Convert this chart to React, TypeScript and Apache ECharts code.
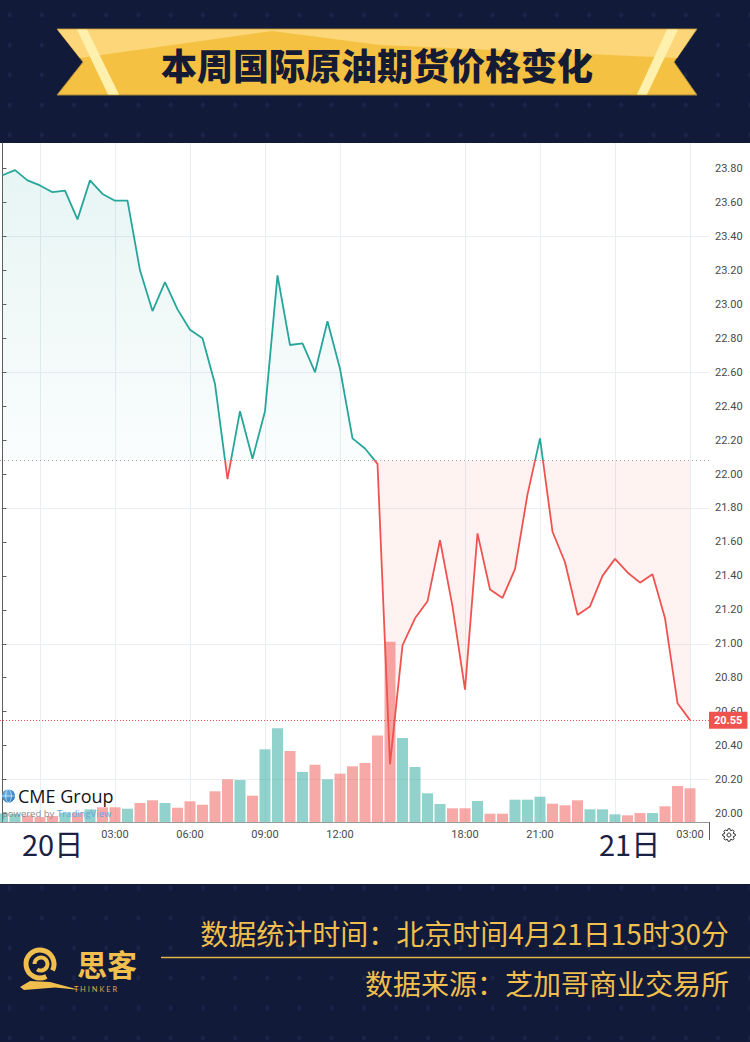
import React, { useEffect, useRef } from 'react';
import * as echarts from 'echarts';

// ---- data (30-minute bars, exchange time) ----
const times = [
  '22:30', '23:00', '23:30', '00:00', '00:30', '01:00', '01:30', '02:00', '02:30', '03:00',
  '03:30', '04:00', '04:30', '05:00', '05:30', '06:00', '06:30', '07:00', '07:30', '08:00',
  '08:30', '09:00', '09:30', '10:00', '10:30', '11:00', '11:30', '12:00', '12:30', '13:00',
  '13:30', '14:00', '14:30', '15:00', '15:30', '17:00', '17:30', '18:00', '18:30', '19:00',
  '19:30', '20:00', '20:30', '21:00', '21:30', '22:00', '22:30', '23:00', '23:30', '00:00',
  '00:30', '01:00', '01:30', '02:00', '02:30', '03:00',
];
const prices = [
  23.76, 23.79, 23.73, 23.70, 23.66, 23.67, 23.50, 23.73, 23.65, 23.61,
  23.61, 23.20, 22.96, 23.13, 22.97, 22.85, 22.80, 22.53, 21.97, 22.37,
  22.09, 22.37, 23.17, 22.76, 22.77, 22.60, 22.90, 22.62, 22.21, 22.15,
  22.06, 20.29, 20.99, 21.15, 21.25, 21.61, 21.22, 20.73, 21.65, 21.32,
  21.27, 21.44, 21.88, 22.21, 21.66, 21.48, 21.17, 21.22, 21.40, 21.50,
  21.42, 21.36, 21.41, 21.15, 20.65, 20.55,
];
const volumes = [
  0.87, 0.80, 0.65, 0.50, 0.60, 0.93, 0.93, 1.27, 1.47, 1.47,
  1.33, 1.90, 2.17, 1.90, 1.43, 2.07, 1.73, 3.07, 4.27, 4.20,
  2.63, 7.27, 9.37, 7.10, 5.00, 5.73, 4.27, 4.83, 5.57, 5.90,
  8.65, 18.03, 8.40, 5.50, 2.87, 1.80, 1.37, 1.37, 2.10, 0.83,
  0.83, 2.23, 2.23, 2.53, 1.83, 1.67, 2.17, 1.27, 1.27, 0.77,
  0.67, 0.90, 0.90, 1.57, 3.60, 3.37,
];
const prevClose = 22.08;
const timeTickIndex = [3, 9, 15, 21, 27, 37, 43, 49, 55];
const priceTicks = [20.0, 20.2, 20.4, 20.6, 20.8, 21.0, 21.2, 21.4, 21.6, 21.8, 22.0, 22.2, 22.4, 22.6, 22.8, 23.0, 23.2, 23.4, 23.6, 23.8];
const dayLabels = ['20日', '21日'];
const titleText = '本周国际原油期货价格变化';
const footerLine1 = '数据统计时间：北京时间4月21日15时30分';
const footerLine2 = '数据来源：芝加哥商业交易所';

const GREEN = '#26a69a';
const RED = '#ef5350';
const GRID = '#e8eef2';
const GOLD = '#f0bf4d';
const NAVY = '#121a3a';
const CLEAR = 'rgba(0,0,0,0)';

function dots(y0: number, rows: number) {
  const out: any[] = [];
  for (let r = 0; r < rows; r++) {
    for (let c = 0; c < 24; c++) {
      out.push({
        type: 'ellipse',
        z: 1,
        silent: true,
        shape: { cx: 9.6 + c * 32.2, cy: y0 + r * 30, rx: 2, ry: 2.8 },
        style: { fill: '#1b2349' },
      });
    }
  }
  return out;
}

function gearPoints(cx: number, cy: number) {
  const pts: number[][] = [];
  for (let k = 0; k < 8; k++) {
    const a = (k * Math.PI) / 4;
    const d = Math.PI / 20;
    pts.push([cx + 6.3 * Math.cos(a - d), cy + 6.3 * Math.sin(a - d)]);
    pts.push([cx + 6.3 * Math.cos(a + d), cy + 6.3 * Math.sin(a + d)]);
    pts.push([cx + 4.6 * Math.cos(a + 2.2 * d), cy + 4.6 * Math.sin(a + 2.2 * d)]);
    pts.push([cx + 4.6 * Math.cos(a + 2.8 * d), cy + 4.6 * Math.sin(a + 2.8 * d)]);
  }
  return pts;
}

function buildOption(): any {
  const lastPrice = prices[prices.length - 1];
  const graphics: any[] = [
    // header
    { type: 'rect', z: 0, silent: true, shape: { x: 0, y: 0, width: 750, height: 143 }, style: { fill: NAVY } },
    ...dots(15, 5),
    { type: 'polygon', z: 5, shape: { points: [[57, 29], [697, 29], [674, 62], [697, 95], [57, 95], [83, 62]] }, style: { fill: '#f4c142', stroke: '#a88739', lineWidth: 1 } },
    { type: 'polygon', z: 6, shape: { points: [[57.5, 29.5], [696, 29.5], [677, 58], [380, 45], [272, 31], [80, 58]] }, style: { fill: '#fcd679' } },
    { type: 'polygon', z: 7, shape: { points: [[77, 29.5], [87, 29.5], [119, 94.5], [108, 94.5]] }, style: { fill: '#fff1ad' } },
    { type: 'polygon', z: 7, shape: { points: [[667, 29.5], [678, 29.5], [647, 94.5], [637, 94.5]] }, style: { fill: '#fff1ad' } },
    {
      type: 'text', z: 8, x: 377, y: 64,
      style: { text: titleText, fontSize: 36, fontWeight: 900, fontFamily: '"Noto Sans CJK SC"', fill: '#151a35', align: 'center', verticalAlign: 'middle' },
    },
    // footer
    { type: 'rect', z: 0, silent: true, shape: { x: 0, y: 884, width: 750, height: 158 }, style: { fill: NAVY } },
    ...dots(888, 6),
    {
      type: 'text', z: 8, x: 729, y: 933,
      style: { text: footerLine1, fontSize: 28, fontFamily: '"Noto Sans CJK SC"', fill: GOLD, align: 'right', verticalAlign: 'middle' },
    },
    { type: 'line', z: 8, shape: { x1: 161, y1: 957.5, x2: 750, y2: 957.5 }, style: { stroke: '#e0b44a', lineWidth: 1.5 } },
    {
      type: 'text', z: 8, x: 729, y: 983,
      style: { text: footerLine2, fontSize: 28, fontFamily: '"Noto Sans CJK SC"', fill: GOLD, align: 'right', verticalAlign: 'middle' },
    },
    // logo
    { type: 'arc', z: 8, shape: { cx: 40, cy: 964, r: 14, startAngle: 0.35 * Math.PI, endAngle: 2.15 * Math.PI }, style: { stroke: GOLD, lineWidth: 5, fill: null } },
    { type: 'arc', z: 8, shape: { cx: 41, cy: 964, r: 6.5, startAngle: 1.0 * Math.PI, endAngle: 2.7 * Math.PI }, style: { stroke: GOLD, lineWidth: 4, fill: null } },
    { type: 'polygon', z: 8, shape: { points: [[20, 987], [30, 981], [50, 982], [80, 990], [55, 987.5], [24, 990]] }, style: { fill: GOLD } },
    {
      type: 'text', z: 8, x: 77, y: 963,
      style: { text: '思客', fontSize: 30, fontWeight: 'bold', fontFamily: '"Noto Sans CJK SC"', fill: GOLD, align: 'left', verticalAlign: 'middle' },
    },
    {
      type: 'text', z: 8, x: 74, y: 989,
      style: { text: 'T H I N K E R', fontSize: 7.5, fontFamily: 'Lato', fill: '#d6ab48', align: 'left', verticalAlign: 'middle' },
    },
    // chart overlays
    { type: 'line', z: 8, shape: { x1: 709.5, y1: 822, x2: 709.5, y2: 840 }, style: { stroke: '#5d5d5d', lineWidth: 1 } },
    { type: 'polygon', z: 8, shape: { points: gearPoints(729, 835) }, style: { fill: '#ffffff', stroke: '#333333', lineWidth: 1 } },
    { type: 'circle', z: 8, shape: { cx: 729, cy: 835, r: 2 }, style: { fill: '#ffffff', stroke: '#333333', lineWidth: 1 } },
    {
      type: 'text', z: 8, x: 22, y: 843,
      style: { text: dayLabels[0], fontSize: 29, fontFamily: '"Noto Sans CJK SC"', fill: '#1b2142', align: 'left', verticalAlign: 'middle' },
    },
    {
      type: 'text', z: 8, x: 599, y: 843,
      style: { text: dayLabels[1], fontSize: 29, fontFamily: '"Noto Sans CJK SC"', fill: '#1b2142', align: 'left', verticalAlign: 'middle' },
    },
    // CME Group / TradingView badge
    {
      type: 'circle', z: 20, shape: { cx: 8.5, cy: 796, r: 6.5 },
      style: { fill: new echarts.graphic.RadialGradient(0.35, 0.35, 0.8, [{ offset: 0, color: '#6fb6ea' }, { offset: 1, color: '#1f6fb8' }]) },
    },
    { type: 'ellipse', z: 21, shape: { cx: 8.5, cy: 796, rx: 2.8, ry: 6.3 }, style: { fill: null, stroke: 'rgba(255,255,255,0.8)', lineWidth: 0.8 } },
    { type: 'line', z: 21, shape: { x1: 2.2, y1: 796, x2: 14.8, y2: 796 }, style: { stroke: 'rgba(255,255,255,0.8)', lineWidth: 0.8 } },
    {
      type: 'text', z: 20, x: 18, y: 796,
      style: { text: 'CME Group', fontSize: 18, fontWeight: 500, fontFamily: '"Open Sans"', fill: '#141414', align: 'left', verticalAlign: 'middle' },
    },
    {
      type: 'text', z: 20, x: 2, y: 813,
      style: { text: 'powered by', fontSize: 9.5, fontFamily: '"Open Sans"', fill: '#8a8a8a', align: 'left', verticalAlign: 'middle' },
    },
    {
      type: 'text', z: 20, x: 57, y: 813,
      style: { text: 'TradingView', fontSize: 9.5, fontFamily: '"Open Sans"', fill: '#5fa8e0', align: 'left', verticalAlign: 'middle' },
    },
  ];

  return {
    animation: false,
    backgroundColor: '#ffffff',
    grid: { left: 0, right: 41, top: 143, bottom: 220 },
    xAxis: {
      type: 'value',
      min: -0.2,
      max: 56.52,
      axisLine: { show: true, onZero: false, lineStyle: { color: '#9a9a9a', width: 1 } },
      axisTick: { show: false },
      axisLabel: { show: false },
      splitLine: { show: false },
    },
    yAxis: [
      {
        type: 'value',
        position: 'right',
        min: 19.95,
        max: 23.95,
        interval: 0.05,
        axisLine: { show: true, lineStyle: { color: '#5d5d5d', width: 1 } },
        axisTick: { show: true, length: 4, customValues: priceTicks, lineStyle: { color: '#5d5d5d' } },
        axisLabel: {
          color: '#4a4a4a',
          fontSize: 11,
          fontFamily: 'Roboto',
          margin: 6,
          formatter: (v: number) => (priceTicks.some((t) => Math.abs(t - v) < 1e-6) ? v.toFixed(2) : ''),
        },
        splitLine: { show: true, lineStyle: { color: [CLEAR, GRID, CLEAR, CLEAR], width: 1 } },
      },
      { type: 'value', show: false, min: 0, max: 67.9 },
    ],
    graphic: { elements: graphics },
    series: [
      {
        type: 'bar',
        name: 'volume',
        xAxisIndex: 0,
        yAxisIndex: 1,
        barWidth: 11,
        z: 2,
        data: volumes.map((v, i) => [i, v]),
        itemStyle: {
          color: (p: any) => {
            const i = p.dataIndex;
            const up = i === 0 || prices[i] >= prices[i - 1];
            return up ? 'rgba(38,166,154,0.5)' : 'rgba(239,83,80,0.5)';
          },
        },
        markLine: {
          silent: true,
          z: 1,
          symbol: 'none',
          lineStyle: { color: GRID, type: 'solid', width: 1 },
          label: { show: true, position: 'start', distance: 7, color: '#4a4a4a', fontSize: 11, fontFamily: 'Roboto' },
          data: timeTickIndex.map((i) => ({
            xAxis: i,
            label: { show: times[i] !== '00:00', formatter: times[i] },
          })),
        },
      },
      {
        id: 'price',
        type: 'line',
        xAxisIndex: 0,
        yAxisIndex: 0,
        z: 3,
        symbol: 'none',
        showSymbol: false,
        data: prices.map((v, i) => [i, v]),
        lineStyle: { width: 1.8, color: GREEN },
        areaStyle: { origin: prevClose, color: 'rgba(38,166,154,0.1)' },
        markLine: {
          silent: true,
          symbol: 'none',
          z: 5,
          data: [
            { yAxis: prevClose, lineStyle: { color: '#a9a9a9', type: [1, 3], width: 1 }, label: { show: false } },
            {
              yAxis: lastPrice,
              lineStyle: { color: RED, type: [1, 2], width: 1 },
              label: {
                show: true,
                position: 'end',
                distance: 0,
                formatter: lastPrice.toFixed(2),
                backgroundColor: RED,
                color: '#ffffff',
                fontWeight: 'bold',
                fontSize: 11,
                fontFamily: 'Roboto',
                padding: [3, 5, 3, 5],
              },
            },
          ],
        },
      },
    ],
  };
}

export default function App() {
  const ref = useRef<HTMLDivElement>(null);
  useEffect(() => {
    document.body.style.margin = '0';
    const chart = echarts.init(ref.current as HTMLDivElement, null, { renderer: 'svg' });
    chart.setOption(buildOption());
    const yTop = chart.convertToPixel({ yAxisIndex: 0 } as any, Math.max(...prices)) as number;
    const yBot = chart.convertToPixel({ yAxisIndex: 0 } as any, Math.min(...prices)) as number;
    const yBase = chart.convertToPixel({ yAxisIndex: 0 } as any, prevClose) as number;
    const b = Math.min(1, Math.max(0, (yBase - yTop) / (yBot - yTop)));
    const lineGrad = new echarts.graphic.LinearGradient(0, yTop, 0, yBot, [
      { offset: 0, color: GREEN },
      { offset: b, color: GREEN },
      { offset: b, color: RED },
      { offset: 1, color: RED },
    ], true);
    const areaGrad = new echarts.graphic.LinearGradient(0, yTop, 0, yBot, [
      { offset: 0, color: 'rgba(38,166,154,0.16)' },
      { offset: b, color: 'rgba(38,166,154,0.03)' },
      { offset: b, color: 'rgba(239,83,80,0.11)' },
      { offset: 1, color: 'rgba(239,83,80,0.11)' },
    ], true);
    chart.setOption({
      series: [{ id: 'price', lineStyle: { color: lineGrad }, areaStyle: { color: areaGrad, origin: prevClose } }],
    });
    return () => chart.dispose();
  }, []);
  return <div ref={ref} style={{ width: 750, height: 1042 }} />;
}
